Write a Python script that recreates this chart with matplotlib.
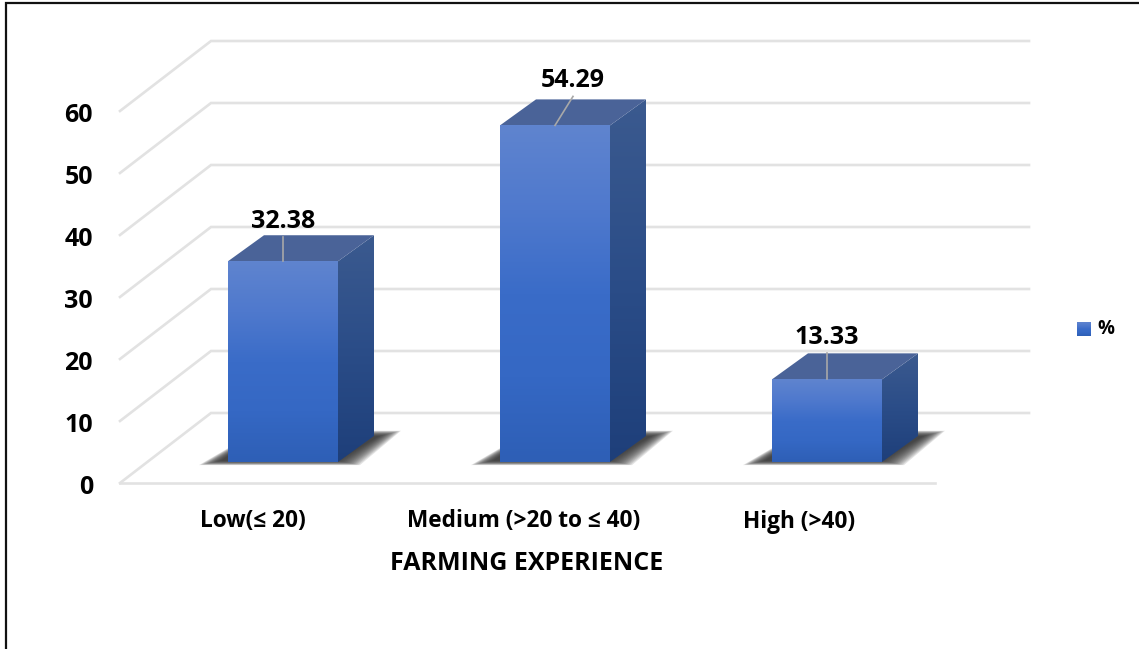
import numpy as np
import matplotlib
matplotlib.use("Agg")
import matplotlib.pyplot as plt
from matplotlib.colors import LinearSegmentedColormap
from matplotlib.patches import Polygon

categories = ["Low(≤ 20)", "Medium (>20 to ≤ 40)", "High (>40)"]
values = [32.38, 54.29, 13.33]
value_labels = ["32.38", "54.29", "13.33"]
y_ticks = [0, 10, 20, 30, 40, 50, 60]
x_title = "FARMING EXPERIENCE"
legend_label = "%"

W, H = 1139, 649
plt.rcParams["font.family"] = ["Open Sans", "DejaVu Sans"]
plt.rcParams["font.weight"] = "bold"
fig = plt.figure(figsize=(W / 100, H / 100), dpi=100, facecolor="white")

ax = fig.add_axes([0, 0, 1, 1])
PX = 272.0
PY = 6.2
X0, Y0 = 283.0, 483.0
XLIM = (-X0 / PX, (W - X0) / PX)
YLIM = (-(H - Y0) / PY, Y0 / PY)
ax.axis("off")
dx = lambda p: p / PX
dy = lambda p: p / PY

GRID = "#e2e2e2"
LEFT = dx(120 - X0)
DEPTH_X, DEPTH_Y = dx(91), dy(70)
BACK_END = dx(1029 - X0)
FRONT_END = dx(935 - X0)

# picture frame: only top and left edges are visible
ax.plot([dx(6 - X0), dx(6 - X0), dx(W + 5 - X0)], [dy(Y0 - H - 5), dy(Y0 - 3), dy(Y0 - 3)],
        color="#111111", lw=1.6, zorder=1, solid_joinstyle="miter")

for t in y_ticks:
    ax.plot([LEFT, LEFT + DEPTH_X, BACK_END], [t, t + DEPTH_Y, t + DEPTH_Y], color=GRID, lw=1.9,
            zorder=2, solid_joinstyle="miter")
    if t == 0:
        ax.plot([LEFT, FRONT_END], [0, 0], color=GRID, lw=1.9, zorder=2)
    ax.text(dx(93 - X0), t - dy(1), str(t), ha="right", va="center_baseline", fontsize=18,
            color="black", zorder=6)

front_cmap = LinearSegmentedColormap.from_list("f", ["#5f84cf", "#4f79cd", "#3a6cc8", "#3568c4", "#2e5fb6"])
side_cmap = LinearSegmentedColormap.from_list("s", ["#3b5a8f", "#2b4d88", "#1e3f7a"])
BAR_W = dx(110)
BASE = dy(21)
BD_X, BD_Y = dx(36), dy(26)

grad = np.linspace(0, 1, 128).reshape(-1, 1)
for i, v in enumerate(values):
    xl, xr = i - BAR_W / 2, i + BAR_W / 2
    bot, top = BASE, BASE + v
    # soft floor shadow: stacked translucent parallelograms, from wide to narrow
    for k in np.arange(13, -10, -1.5):
        ax.add_patch(Polygon([[xl - dx(16 + k), bot - dy(0.5 + k * 0.2)],
                              [xr + dx(9 + k), bot - dy(0.5 + k * 0.2)],
                              [xr + dx(50 + k), bot + dy(28 + k * 0.25)],
                              [xl + dx(30), bot + dy(28 + k * 0.25)]],
                             fc="#333333", ec="none", alpha=0.13, zorder=3))
    poly = Polygon([[xr, bot], [xr + BD_X, bot + BD_Y], [xr + BD_X, top + BD_Y], [xr, top]],
                   fc="none", ec="none", zorder=4)
    ax.add_patch(poly)
    im = ax.imshow(grad, cmap=side_cmap, extent=[xr, xr + BD_X, bot, top + BD_Y], aspect="auto",
                   zorder=4, vmin=0, vmax=1, origin="upper", interpolation="bilinear")
    im.set_clip_path(poly)
    ax.add_patch(Polygon([[xl, top], [xr, top], [xr + BD_X, top + BD_Y], [xl + BD_X, top + BD_Y]],
                         fc="#4a6398", ec="none", zorder=4))
    ax.imshow(grad, cmap=front_cmap, extent=[xl, xr, bot, top], aspect="auto", zorder=5,
              vmin=0, vmax=1, origin="upper", interpolation="bilinear")

lean = [0, dx(18), 0]
rise = [dy(24), dy(29), dy(26)]
for i, v in enumerate(values):
    top = BASE + v
    ax.plot([i, i + lean[i]], [top, top + rise[i]], color="#a8a8a8", lw=1.2, zorder=6)
    ax.text(i + lean[i], top + rise[i] + dy(3), value_labels[i],
            ha="center", va="bottom", fontsize=18, color="black", zorder=7)

for i, c in enumerate(categories):
    off = [-30, -31, -28][i]
    ax.text(i + dx(off), -dy(38.5), c, ha="center", va="center", fontsize=16.3, color="black", zorder=7)
ax.text(dx(527 - X0), -dy(80), x_title, ha="center", va="center", fontsize=18, color="black", zorder=7)

ax.imshow(grad, cmap=front_cmap, extent=[dx(1077 - X0), dx(1091 - X0), dy(Y0 - 336), dy(Y0 - 322)],
          aspect="auto", zorder=5, vmin=0, vmax=1, origin="upper")
ax.text(dx(1097 - X0), dy(Y0 - 329), legend_label, ha="left", va="center", fontsize=13.5, color="black")
ax.set_xlim(*XLIM)
ax.set_ylim(*YLIM)

fig.savefig("out.png", dpi=100, facecolor="white")
